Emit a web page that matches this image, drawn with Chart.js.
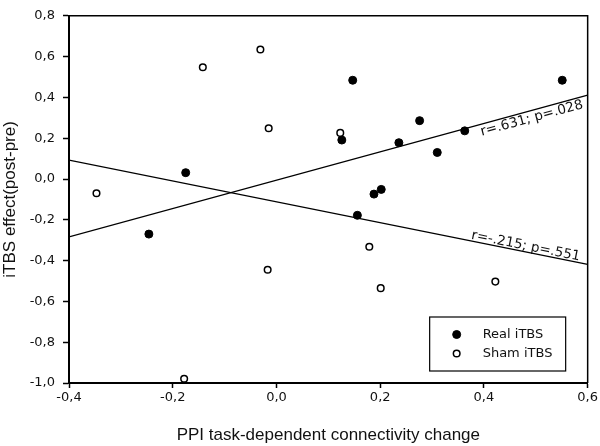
<!DOCTYPE html>
<html>
<head>
<meta charset="utf-8">
<script src="https://cdn.jsdelivr.net/npm/chart.js@4.4.0/dist/chart.umd.min.js"></script>
<style>
  html, body { margin: 0; padding: 0; background: #fff; }
  #wrap { width: 600px; height: 446px; }
</style>
</head>
<body>
<div id="wrap"><canvas id="c" width="600" height="446"></canvas></div>
<script>
// values
const realX = [-0.246, -0.175, 0.126, 0.147, 0.156, 0.188, 0.202, 0.236, 0.276, 0.310, 0.363, 0.551];
const realY = [-0.27, 0.031, 0.191, 0.484, -0.178, -0.074, -0.051, 0.178, 0.286, 0.130, 0.236, 0.484];
const shamX = [-0.347, -0.178, -0.142, -0.031, -0.015, -0.017, 0.123, 0.179, 0.201, 0.422];
const shamY = [-0.070, -0.979, 0.548, 0.635, 0.249, -0.445, 0.226, -0.332, -0.535, -0.503];

// fitted lines, end points at the axis limits
const realFitX = [-0.4, 0.6];
const realFitY = [-0.284, 0.411];
const shamFitX = [-0.4, 0.6];
const shamFitY = [0.093, -0.418];

const seriesNames = ['Real iTBS', 'Sham iTBS'];
const fitTexts = ['r=.631; p=.028', 'r=-.215; p=.551'];
const xTickLabels = ['-0,4', '-0,2', '0,0', '0,2', '0,4', '0,6'];
const yTickLabels = ['-1,0', '-0,8', '-0,6', '-0,4', '-0,2', '0,0', '0,2', '0,4', '0,6', '0,8'];
const xTitle = 'PPI task-dependent connectivity change';
const yTitle = 'iTBS effect(post-pre)';

const pts = (xs, ys) => xs.map((x, i) => ({ x, y: ys[i] }));

const frame = {
  id: 'frame',
  afterDraw(chart) {
    const { ctx, chartArea: a } = chart;
    ctx.save();
    ctx.strokeStyle = '#000';
    ctx.lineWidth = 1.5;
    ctx.beginPath();
    ctx.moveTo(a.left, a.top); ctx.lineTo(a.right, a.top); ctx.lineTo(a.right, a.bottom);
    ctx.stroke();
    ctx.restore();
  }
};

// r / p text laid along each fit line
const fitLabels = {
  id: 'fitLabels',
  afterDatasetsDraw(chart) {
    const { ctx, scales: { x, y } } = chart;
    const specs = [
      { ds: 2, startX: 0.39, below: true },
      { ds: 3, startX: 0.374, below: false }
    ];
    ctx.save();
    ctx.fillStyle = '#111';
    ctx.font = '13.5px "DejaVu Sans", sans-serif';
    specs.forEach((s, i) => {
      const d = chart.data.datasets[s.ds].data;
      const x1 = x.getPixelForValue(d[0].x), y1 = y.getPixelForValue(d[0].y);
      const x2 = x.getPixelForValue(d[1].x), y2 = y.getPixelForValue(d[1].y);
      const ang = Math.atan2(y2 - y1, x2 - x1);
      const t = (s.startX - d[0].x) / (d[1].x - d[0].x);
      ctx.save();
      ctx.translate(x1 + (x2 - x1) * t, y1 + (y2 - y1) * t);
      ctx.rotate(ang);
      ctx.textAlign = 'left';
      ctx.textBaseline = s.below ? 'top' : 'alphabetic';
      ctx.fillText(fitTexts[i], 0, s.below ? 1 : -2);
      ctx.restore();
    });
    ctx.restore();
  }
};

const boxLegend = {
  id: 'boxLegend',
  afterDraw(chart) {
    const { ctx, chartArea: a } = chart;
    const w = 136, h = 54;
    const left = a.right - 22 - w, top = a.bottom - 12 - h;
    ctx.save();
    ctx.fillStyle = '#fff';
    ctx.fillRect(left, top, w, h);
    ctx.strokeStyle = '#000';
    ctx.lineWidth = 1.2;
    ctx.strokeRect(left, top, w, h);
    ctx.font = '13px "DejaVu Sans", sans-serif';
    ctx.textBaseline = 'middle';
    [0, 1].forEach(i => {
      const ds = chart.data.datasets[i];
      const cy = top + 17.5 + i * 19;
      ctx.beginPath();
      ctx.arc(left + 27, cy, ds.pointRadius, 0, Math.PI * 2);
      ctx.fillStyle = ds.backgroundColor;
      ctx.fill();
      ctx.lineWidth = ds.borderWidth;
      ctx.strokeStyle = '#000';
      ctx.stroke();
      ctx.fillStyle = '#111';
      ctx.fillText(ds.label, left + 53, cy);
    });
    ctx.restore();
  }
};

new Chart(document.getElementById('c'), {
  type: 'scatter',
  data: {
    datasets: [
      { label: seriesNames[0], data: pts(realX, realY), backgroundColor: '#000', borderColor: '#000', borderWidth: 1, pointRadius: 4, clip: false },
      { label: seriesNames[1], data: pts(shamX, shamY), backgroundColor: '#fff', borderColor: '#000', borderWidth: 1.5, pointRadius: 3.3, clip: false },
      { type: 'line', label: 'realFit', data: pts(realFitX, realFitY), borderColor: '#000', borderWidth: 1.3, pointRadius: 0, fill: false },
      { type: 'line', label: 'shamFit', data: pts(shamFitX, shamFitY), borderColor: '#000', borderWidth: 1.3, pointRadius: 0, fill: false }
    ]
  },
  options: {
    responsive: false,
    animation: false,
    layout: { padding: { top: 8, right: 11, left: 0, bottom: 0 } },
    plugins: { legend: { display: false }, tooltip: { enabled: false } },
    scales: {
      x: {
        type: 'linear', min: -0.4, max: 0.6,
        afterFit(s) { s.height = 63; },
        ticks: {
          stepSize: 0.2, padding: 2, color: '#111',
          font: { family: '"DejaVu Sans", sans-serif', size: 13 },
          callback: (v, i) => xTickLabels[i]
        },
        grid: { drawOnChartArea: false, drawTicks: true, tickLength: 5, tickColor: '#000', tickWidth: 1.5 },
        border: { display: true, color: '#000', width: 2 },
        title: { display: true, text: xTitle, color: '#111', font: { family: '"Liberation Sans", Arial, sans-serif', size: 17 }, padding: { top: 0, bottom: 0 } }
      },
      y: {
        type: 'linear', min: -1.0, max: 0.8,
        afterFit(s) { s.width = 69; },
        ticks: {
          stepSize: 0.2, padding: 8, color: '#111',
          font: { family: '"DejaVu Sans", sans-serif', size: 13 },
          callback: (v, i) => yTickLabels[i]
        },
        grid: { drawOnChartArea: false, drawTicks: true, tickLength: 6, tickColor: '#000', tickWidth: 1.5 },
        border: { display: true, color: '#000', width: 2 },
        title: { display: true, text: yTitle, color: '#111', font: { family: '"Liberation Sans", Arial, sans-serif', size: 17 }, padding: { top: 0, bottom: 0 } }
      }
    }
  },
  plugins: [frame, fitLabels, boxLegend]
});
</script>
</body>
</html>
